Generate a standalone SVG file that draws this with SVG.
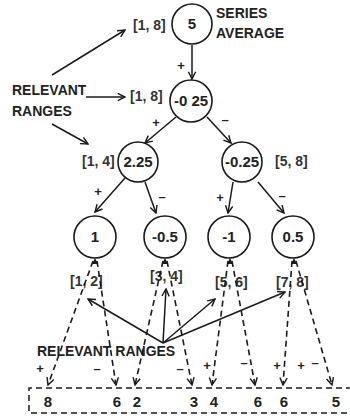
<svg xmlns="http://www.w3.org/2000/svg" width="350" height="419" viewBox="0 0 350 419">
<style>
text{font-family:"Liberation Sans",Arial,sans-serif;font-weight:bold;fill:#222}
.t{font-size:14px}
.n{font-size:15px;text-anchor:middle}
.s{font-size:13px;text-anchor:middle}
.r{font-size:14px;fill:#333}
circle{fill:#fff;stroke:#1a1a1a;stroke-width:1.6}
.a{stroke:#1a1a1a;stroke-width:1.5;fill:none;marker-end:url(#ah)}
.d{stroke:#1a1a1a;stroke-width:1.6;fill:none;stroke-dasharray:6 4;marker-end:url(#ah)}
.box{stroke:#1a1a1a;stroke-width:1.5;fill:none;stroke-dasharray:6 4}
</style>
<defs>
<marker id="ah" viewBox="0 0 10 10" refX="9" refY="5" markerWidth="9" markerHeight="9" markerUnits="userSpaceOnUse" orient="auto">
<path d="M1,1 L9,5 L1,9" fill="none" stroke="#1a1a1a" stroke-width="1.6"/>
</marker>
<path id="tip" d="M-3,5 L0,-1 L3,5 Z" fill="#1a1a1a"/>
</defs>

<g id="labels">
<text class="t" x="216" y="18">SERIES</text>
<text class="t" x="216" y="38">AVERAGE</text>
<text class="t" x="12" y="95">RELEVANT</text>
<text class="t" x="12" y="116">RANGES</text>
<text class="t" x="37" y="356">RELEVANT RANGES</text>
<text class="r" x="133" y="30">[1, 8]</text>
<text class="r" x="130" y="101">[1, 8]</text>
<text class="r" x="82" y="166">[1, 4]</text>
<text class="r" x="275" y="166">[5, 8]</text>
<text class="r" x="70" y="286">[1, 2]</text>
<text class="r" x="150" y="281">[3, 4]</text>
<text class="r" x="215" y="287">[5, 6]</text>
<text class="r" x="276" y="287">[7, 8]</text>
</g>

<g id="connectors">
<line class="a" x1="52" y1="75" x2="125" y2="30"/>
<line class="a" x1="86" y1="97" x2="125" y2="97"/>
<line class="a" x1="52" y1="124" x2="88" y2="144"/>
<line class="a" x1="192" y1="45" x2="192" y2="79"/>
<line class="a" x1="176" y1="117" x2="145" y2="143"/>
<line class="a" x1="207" y1="117" x2="231" y2="143"/>
<line class="a" x1="125" y1="178" x2="95" y2="212"/>
<line class="a" x1="145" y1="182" x2="156" y2="213"/>
<line class="a" x1="233" y1="182" x2="228" y2="213"/>
<line class="a" x1="258" y1="182" x2="284" y2="213"/>
<line class="a" x1="163" y1="343" x2="88" y2="299"/>
<line class="a" x1="163" y1="343" x2="166" y2="289"/>
<line class="a" x1="163" y1="343" x2="215" y2="299"/>
<line class="a" x1="163" y1="343" x2="285" y2="292"/>
<line class="d" x1="93" y1="261" x2="48" y2="385"/>
<line class="d" x1="97" y1="261" x2="116" y2="385"/>
<line class="d" x1="163" y1="261" x2="135" y2="385"/>
<line class="d" x1="167" y1="261" x2="192" y2="385"/>
<line class="d" x1="228" y1="261" x2="212" y2="385"/>
<line class="d" x1="232" y1="261" x2="255" y2="385"/>
<line class="d" x1="292" y1="261" x2="283" y2="385"/>
<line class="d" x1="296" y1="261" x2="332" y2="385"/>
<use href="#tip" x="95" y="259"/>
<use href="#tip" x="165" y="259"/>
<use href="#tip" x="230" y="259"/>
<use href="#tip" x="294" y="259"/>
<text class="s" x="181" y="70">+</text>
<text class="s" x="156" y="127">+</text>
<text class="s" x="225" y="124">–</text>
<text class="s" x="98" y="196">+</text>
<text class="s" x="162" y="201">–</text>
<text class="s" x="220" y="202">+</text>
<text class="s" x="282" y="200">–</text>
<text class="s" x="40" y="373">+</text>
<text class="s" x="97" y="373">–</text>
<text class="s" x="180" y="373">–</text>
<text class="s" x="207" y="370">+</text>
<text class="s" x="244" y="367">–</text>
<text class="s" x="277" y="370">+</text>
<text class="s" x="301" y="370">+</text>
<text class="s" x="315" y="367">–</text>
</g>

<g id="n-root"><circle cx="192" cy="24" r="20"/><text class="n" x="192" y="29">5</text></g>
<g id="n-l1"><circle cx="191" cy="101" r="21"/><text class="n" x="191" y="106">-0 25</text></g>
<g id="n-l2a"><circle cx="138" cy="162" r="20"/><text class="n" x="138" y="167">2.25</text></g>
<g id="n-l2b"><circle cx="242" cy="162" r="20"/><text class="n" x="242" y="167">-0.25</text></g>
<g id="n-l3a"><circle cx="95" cy="237" r="21"/><text class="n" x="95" y="242">1</text></g>
<g id="n-l3b"><circle cx="165" cy="237" r="21"/><text class="n" x="165" y="242">-0.5</text></g>
<g id="n-l3c"><circle cx="229" cy="237" r="21"/><text class="n" x="229" y="242">-1</text></g>
<g id="n-l3d"><circle cx="293" cy="237" r="21"/><text class="n" x="293" y="242">0.5</text></g>

<g id="series">
<path class="box" d="M352,388 H29 V413 H352"/>
<text class="n" x="48" y="407">8</text>
<text class="n" x="117" y="407">6</text>
<text class="n" x="137" y="407">2</text>
<text class="n" x="194" y="407">3</text>
<text class="n" x="214" y="407">4</text>
<text class="n" x="258" y="407">6</text>
<text class="n" x="284" y="407">6</text>
<text class="n" x="336" y="407">5</text>
</g>
</svg>
